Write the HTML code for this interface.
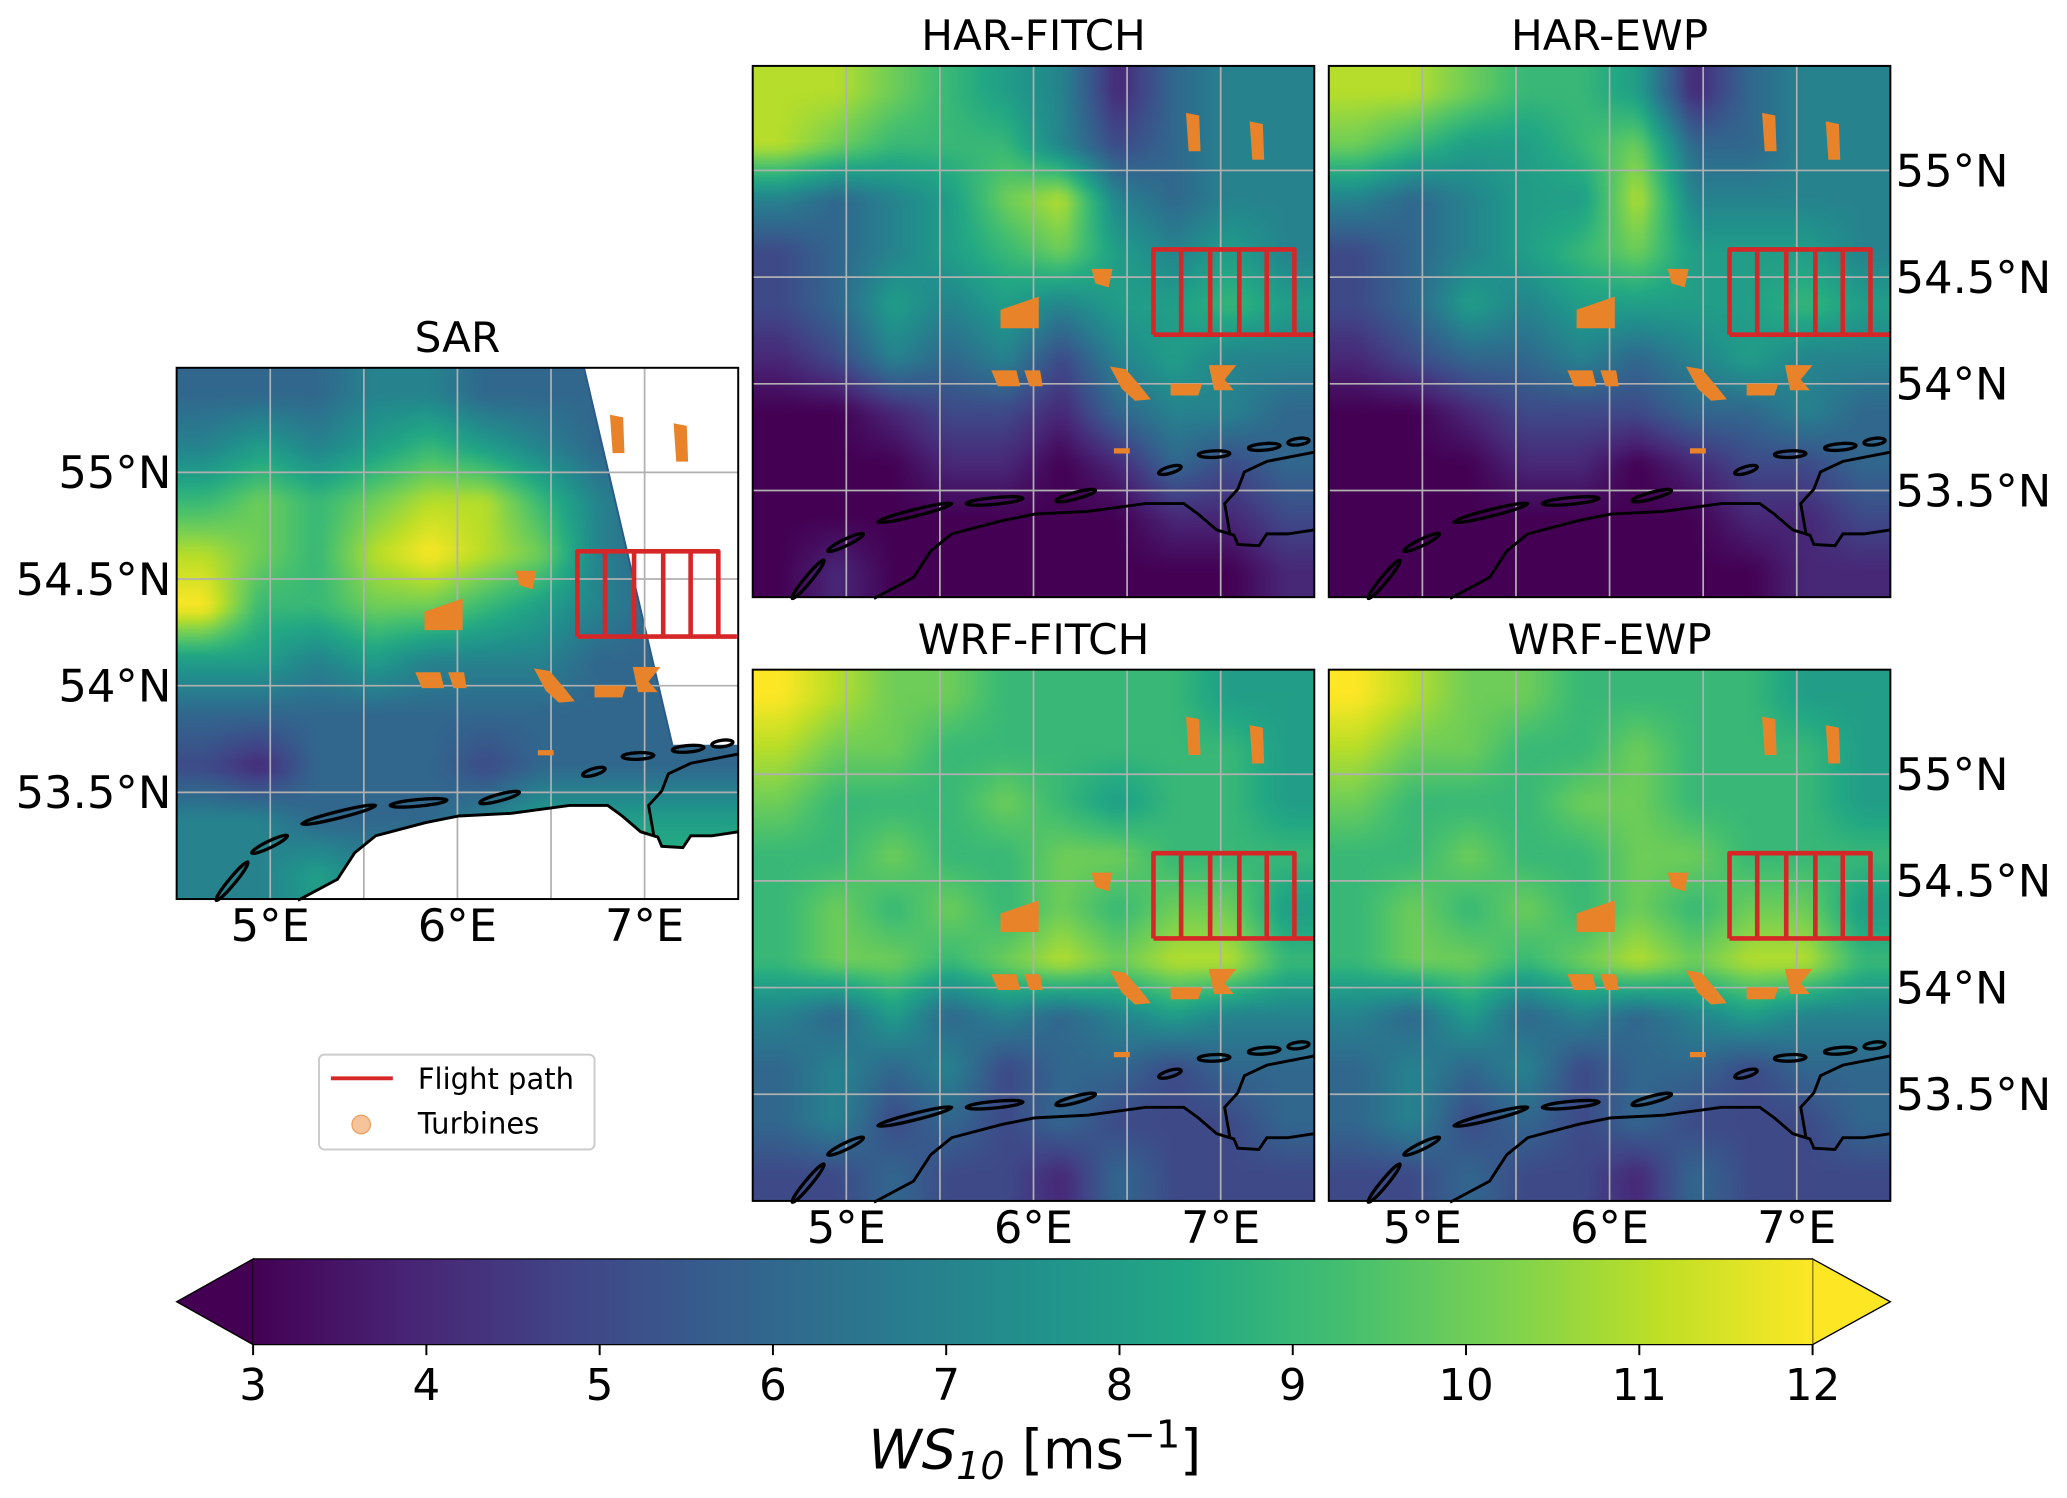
<!DOCTYPE html>
<html><head><meta charset="utf-8">
<style>
html,body{margin:0;padding:0;background:#fff;width:2067px;height:1497px;overflow:hidden}
#root{position:absolute;left:0;top:0;width:1568px;height:1136px;transform:scale(1.31824);transform-origin:0 0;font-family:"DejaVu Sans","Liberation Sans",sans-serif}
canvas{position:absolute;width:426px;height:403px}
svg{position:absolute;left:0;top:0}
</style></head><body>
<div id="root">
<canvas id="c-sar" style="left:134px;top:279px"></canvas>
<canvas id="c-hf" style="left:571px;top:50px"></canvas>
<canvas id="c-he" style="left:1008px;top:50px"></canvas>
<canvas id="c-wf" style="left:571px;top:508px"></canvas>
<canvas id="c-we" style="left:1008px;top:508px"></canvas>
<svg id="ov" width="1568" height="1136" viewBox="0 0 1568 1136">
<defs>
<linearGradient id="vir" x1="0" x2="1" y1="0" y2="0">
<stop offset="0" stop-color="#440154"/><stop offset="0.1" stop-color="#482475"/><stop offset="0.2" stop-color="#414487"/><stop offset="0.3" stop-color="#355f8d"/><stop offset="0.4" stop-color="#2a788e"/><stop offset="0.5" stop-color="#21918c"/><stop offset="0.6" stop-color="#22a884"/><stop offset="0.7" stop-color="#44bf70"/><stop offset="0.8" stop-color="#7ad151"/><stop offset="0.9" stop-color="#bddf26"/><stop offset="1" stop-color="#fde725"/>
</linearGradient>
</defs>
</svg>
</div>
<script>
// ---- data (coarse wind-speed fields, m/s; rows north->south, cols west->east) ----
const sarField=[[6,6,6,7,7,6,6,6,6,6],[7,8,7,8,9,8,7,6,6,6],[9,10,9,10,11,11,9,7,6,6],[11,10,9,11,12,11,10,7,6,6],[12,9,9,10,10,9,8,7,6,6],[8,8,7,8,7,7,7,6,6,6],[6,6,6,6,6,6,6,6,6,6],[5,4,6,6,6,5,6,6,6,6],[7,7,6,6,6,7,8,8,8,8],[7,7,8,7,8,9,9,9,9,9]];
const harFitchField=[[11,11,10,9,8,7,4,6,7,7],[11,10,9,9,9,7,5,6,7,7],[7,6,7,8,10,11,7,6,7,7],[5,6,7,8,9,10,8,7,8,7],[5,6,8,7,8,7,8,8,9,8],[4,5,7,6,7,5,7,8,7,7],[3,3,4,5,5,4,6,7,7,6],[3,3,3,4,4,3,4,6,5,6],[3,3,3,3,3,3,3,4,4,5],[3,4,3,3,3,3,3,3,3,4]];
const harEwpField=[[11,11,10,9,9,8,4,6,7,7],[10,9,8,8,9,10,6,6,7,7],[7,6,7,8,8,11,7,7,7,7],[5,6,7,8,9,10,8,8,8,7],[5,6,8,7,8,8,8,8,9,8],[4,5,6,6,7,6,7,8,7,7],[3,3,4,5,5,5,6,6,7,6],[3,3,3,4,4,3,4,5,5,6],[3,3,3,3,3,3,3,4,4,5],[3,3,3,3,3,3,3,3,4,4]];
const wrfFitchField=[[12,11,10,10,9,9,9,9,8,8],[11,10,10,9,9,9,9,9,9,8],[10,9,9,9,10,9,8,9,9,8],[9,9,10,9,9,10,10,9,9,9],[9,10,9,10,9,10,9,10,10,8],[9,10,10,9,10,11,10,11,11,9],[7,6,8,6,7,6,7,8,7,7],[6,7,6,7,5,6,6,5,6,6],[6,7,5,6,5,6,5,5,5,6],[5,5,6,5,5,4,6,5,5,5]];
const wrfEwpField=[[12,11,10,10,9,9,9,9,8,8],[11,10,10,9,9,10,9,9,9,8],[10,9,9,9,10,10,9,9,9,8],[9,9,10,9,9,10,10,9,9,9],[9,10,9,10,9,10,9,10,10,8],[9,10,10,9,10,11,10,11,11,9],[7,6,8,6,7,6,7,8,7,7],[6,7,6,7,5,6,6,5,6,6],[6,7,5,6,5,6,5,5,5,6],[5,5,6,5,5,4,6,5,5,5]];
const cbTicks=[3,4,5,6,7,8,9,10,11,12];
const lonTicks=[5,6,7];
const latTicks=[55,54.5,54,53.5];
const flightLon=[6.641,6.641,7.394,7.394,7.493];
const flightLat=[54.23,54.63,54.63,54.23,54.23];
const legLon=[6.789,6.944,7.099,7.246];
const turbLon=[6.85,6.85,7.19,7.19];
const turbLat=[55.27,55.09,55.23,55.05];
// coastline & islands, panel-relative px (x from left, y from top of a 426x403 map)
const coastX=[92,122,135,151,189,214,254,298,327,338,352,365,368,384,390,406,426];
const coastY=[404,388,368,355,345,340,338,332,332,340,352,356,363,364,355,355,352];
const ger=[[362,355],[358,332],[368,321],[373,308],[390,300],[426,293]];
const islands=[[[30,404],[54,375]],[[57,368],[84,355]],[[95,346],[151,332]],[[162,332],[205,328]],[[230,330],[260,322]],[[308,309],[325,304]],[[338,295],[362,294]],[[376,290],[400,288]],[[406,286],[422,284]]];
const turbPatches=[[[257,154],[273,154],[270,168],[260,165]],[[188,185],[217,175],[217,199],[188,199]],[[181,231],[200,231],[203,243],[186,243]],[[206,231],[218,231],[220,243],[210,243]],[[271,228],[283,230],[295,244],[302,253],[290,254],[280,245]],[[317,241],[341,241],[338,250],[317,250]],[[346,227],[367,227],[358,238],[365,246],[350,246]],[[274,290],[286,290],[286,294],[274,294]]];

const VIR=[[68,1,84],[72,36,117],[65,68,135],[53,95,141],[42,120,142],[33,145,140],[34,168,132],[68,191,112],[122,209,81],[189,223,38],[253,231,37]];
function vir(v){let t=(v-3)/9;t=Math.max(0,Math.min(1,t))*10;const i=Math.min(9,Math.floor(t)),f=t-i;return VIR[i].map((c,k)=>Math.round(c+(VIR[i+1][k]-c)*f));}
function paint(id,field){const c=document.getElementById(id);const R=field.length,C=field[0].length;const S=6;c.width=C*S;c.height=R*S;const ctx=c.getContext('2d');const im=ctx.createImageData(C*S,R*S);
 for(let y=0;y<R*S;y++)for(let x=0;x<C*S;x++){let fy=(y+0.5)/S-0.5,fx=(x+0.5)/S-0.5;fy=Math.max(0,Math.min(R-1,fy));fx=Math.max(0,Math.min(C-1,fx));const r0=Math.floor(fy),c0=Math.floor(fx),r1=Math.min(R-1,r0+1),c1=Math.min(C-1,c0+1),ay=fy-r0,ax=fx-c0;
 const v=field[r0][c0]*(1-ax)*(1-ay)+field[r0][c1]*ax*(1-ay)+field[r1][c0]*(1-ax)*ay+field[r1][c1]*ax*ay;const col=vir(v);const o=(y*C*S+x)*4;im.data[o]=col[0];im.data[o+1]=col[1];im.data[o+2]=col[2];im.data[o+3]=255;}
 ctx.putImageData(im,0,0);}
paint('c-sar',sarField);paint('c-hf',harFitchField);paint('c-he',harEwpField);paint('c-wf',wrfFitchField);paint('c-we',wrfEwpField);

const NS='http://www.w3.org/2000/svg';const svg=document.getElementById('ov');
function mk(tag,attrs,txt){const e=document.createElementNS(NS,tag);for(const k in attrs)e.setAttribute(k,attrs[k]);if(txt!==undefined)e.textContent=txt;svg.appendChild(e);return e;}
const W=426,H=403,LON0=4.5,LON1=7.5,LAT0=53.0,LAT1=55.49;
function px(p,lon){return p.x+(lon-LON0)/(LON1-LON0)*W;}
function py(p,lat){return p.y+(LAT1-lat)/(LAT1-LAT0)*H;}
const panels=[
 {x:134,y:279,title:'SAR',name:'sar',left:true,bottom:true},
 {x:571,y:50,title:'HAR-FITCH',name:'har-fitch'},
 {x:1008,y:50,title:'HAR-EWP',name:'har-ewp',right:true},
 {x:571,y:508,title:'WRF-FITCH',name:'wrf-fitch',bottom:true},
 {x:1008,y:508,title:'WRF-EWP',name:'wrf-ewp',right:true,bottom:true}];
function poly(p,lons,lats){return lons.map((l,i)=>(i?'L':'M')+px(p,l).toFixed(1)+','+py(p,lats[i]).toFixed(1)).join(' ');}
function rel(p,pts){return pts.map((q,i)=>(i?'L':'M')+(p.x+q[0])+','+(p.y+q[1])).join(' ');}
panels.forEach(p=>{
 const coastPts=coastX.map((x,i)=>[x,coastY[i]]);
 if(p.name==='sar'){
  let e=mk('path',{d:`M${p.x+309},${p.y} L${p.x+W},${p.y} L${p.x+W},${p.y+286} L${p.x+376},${p.y+286} Z`,fill:'#fff'});
  
  e=mk('path',{d:rel(p,coastPts)+` L${p.x+W},${p.y+H} Z`,fill:'#fff'});
  
  e=mk('line',{x1:p.x+309,y1:p.y,x2:p.x+376,y2:p.y+286,stroke:'#2a5a8a','stroke-width':1.5});
 }
 for(let l=5;l<7.6;l+=0.5){const x=px(p,l);if(x<p.x+W-1){const e=mk('line',{x1:x,y1:p.y,x2:x,y2:p.y+H,stroke:'#b0b0b0','stroke-width':1.3});}}
 latTicks.forEach(l=>{const y=py(p,l);const e=mk('line',{x1:p.x,y1:y,x2:p.x+W,y2:y,stroke:'#b0b0b0','stroke-width':1.3});});
 let e=mk('path',{d:rel(p,coastPts),fill:'none',stroke:'#000','stroke-width':2.2});
 
 e=mk('path',{d:rel(p,ger),fill:'none',stroke:'#000','stroke-width':2.2});
 
 islands.forEach(s=>{const [a,b]=s;const cx=(a[0]+b[0])/2+p.x,cy=(a[1]+b[1])/2+p.y;const L=Math.hypot(b[0]-a[0],b[1]-a[1])/2;const ang=Math.atan2(b[1]-a[1],b[0]-a[0])*180/Math.PI;
  const el=mk('ellipse',{cx:cx,cy:cy,rx:Math.max(L,3),ry:2.5,fill:'none',stroke:'#000','stroke-width':2.5,transform:`rotate(${ang} ${cx} ${cy})`});
  });
 turbPatches.forEach(t=>{const el=mk('path',{d:rel(p,t)+'Z',fill:'#e8832a'});});
 for(let i=0;i<turbLon.length;i+=2){const x=px(p,turbLon[i]);const el=mk('path',{d:`M${x-5},${py(p,turbLat[i])} L${x+5},${py(p,turbLat[i])+2} L${x+6},${py(p,turbLat[i+1])} L${x-3},${py(p,turbLat[i+1])} Z`,fill:'#e8832a'});}
 e=mk('path',{d:poly(p,flightLon,flightLat)+' '+legLon.map(l=>`M${px(p,l).toFixed(1)},${py(p,54.23).toFixed(1)} L${px(p,l).toFixed(1)},${py(p,54.63).toFixed(1)}`).join(' ')+` M${px(p,6.641)},${py(p,54.23)} L${px(p,7.394)},${py(p,54.23)}`,fill:'none',stroke:'#d62728','stroke-width':3.5,'stroke-linejoin':'round'});
 
 e=mk('rect',{x:p.x,y:p.y,width:W,height:H,fill:'none',stroke:'#000','stroke-width':1.5});
 
 e=mk('text',{x:p.x+W/2,y:p.y-12,'text-anchor':'middle','font-size':32},p.title);
 
 if(p.left||p.right)latTicks.forEach(l=>{const e=mk('text',{x:p.left?p.x-4:p.x+W+4,y:py(p,l)+12,'text-anchor':p.left?'end':'start','font-size':34},l+'°N');});
 if(p.bottom)lonTicks.forEach(l=>{const e=mk('text',{x:px(p,l),y:p.y+H+32,'text-anchor':'middle','font-size':34},l+'°E');});
});
// legend
let e=mk('rect',{x:242,y:800,width:209,height:72,rx:4,fill:'#fff',stroke:'#ccc','stroke-width':1.5});

e=mk('line',{x1:251,y1:818,x2:298,y2:818,stroke:'#d62728','stroke-width':3});

e=mk('text',{x:317,y:826,'font-size':22},'Flight path');

e=mk('circle',{cx:274,cy:853,r:7,fill:'#f7c39a',stroke:'#f0a060'});

e=mk('text',{x:317,y:860,'font-size':22},'Turbines');

// colorbar
const CB0=192,CB1=1375,CBY=955,CBH=65;
function cbx(v){return CB0+(v-cbTicks[0])/(cbTicks[cbTicks.length-1]-cbTicks[0])*(CB1-CB0);}
e=mk('polygon',{points:`${CB0},${CBY} 134,${CBY+CBH/2} ${CB0},${CBY+CBH}`,fill:'#440154',stroke:'#000','stroke-width':1});

e=mk('polygon',{points:`${CB1},${CBY} 1434,${CBY+CBH/2} ${CB1},${CBY+CBH}`,fill:'#fde725',stroke:'#000','stroke-width':1});

e=mk('rect',{x:CB0,y:CBY,width:CB1-CB0,height:CBH,fill:'url(#vir)',stroke:'none'});

e=mk('path',{d:`M${CB0},${CBY} L${CB1},${CBY} M${CB0},${CBY+CBH} L${CB1},${CBY+CBH}`,stroke:'#000','stroke-width':1});
cbTicks.forEach(v=>{
 const t=mk('line',{x1:cbx(v),y1:CBY+CBH,x2:cbx(v),y2:CBY+CBH+8,stroke:'#000','stroke-width':1.5});
 
 const l=mk('text',{x:cbx(v),y:CBY+CBH+42,'text-anchor':'middle','font-size':33},String(v));
 
});
e=mk('text',{x:785,y:1114,'text-anchor':'middle','font-size':41});
e.innerHTML='<tspan font-style="italic">WS</tspan><tspan font-style="italic" font-size="29" dy="8">10</tspan><tspan dy="-8"> [ms</tspan><tspan font-size="29" dy="-16">−1</tspan><tspan dy="16">]</tspan>';

</script>
</body></html>
